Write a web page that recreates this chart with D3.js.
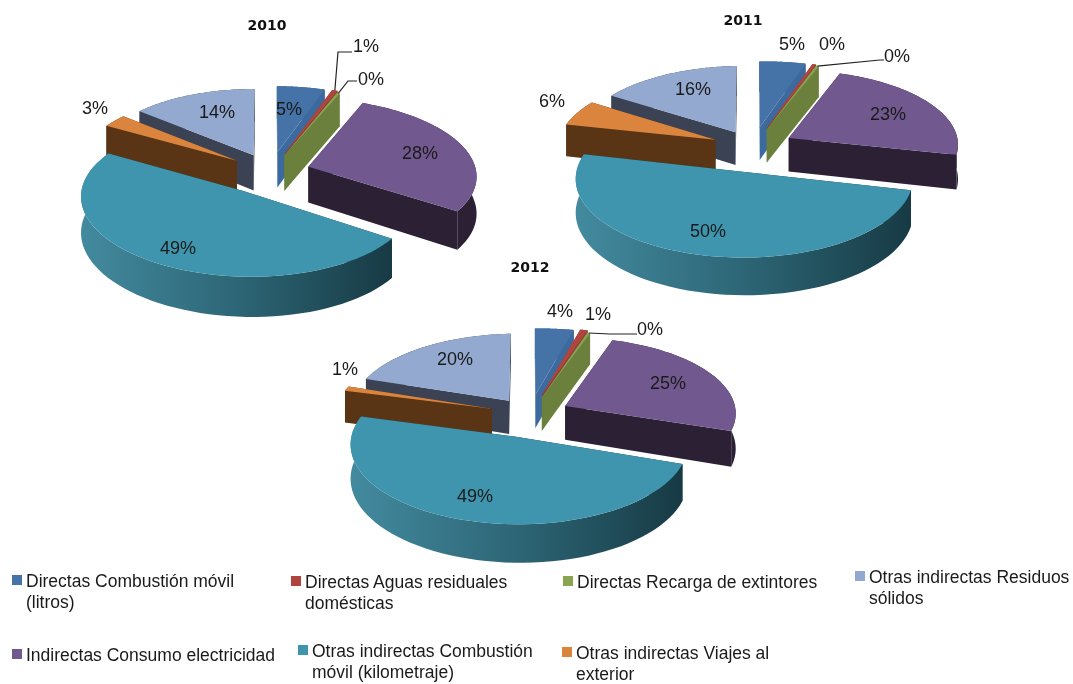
<html>

<head>
    <meta charset="utf-8">
    <script src="https://d3js.org/d3.v7.min.js"></script>
    <style>
        body {
            margin: 0;
            background: white;
        }

        svg {
            filter: blur(0.45px);
        }

        text {
            font-family: "Liberation Sans", sans-serif;
            fill: #1a1a1a;
        }

        .title {
            font-family: "DejaVu Sans", sans-serif;
            font-size: 14px;
            font-weight: bold;
            fill: #111;
        }

        .label {
            font-size: 18px;
        }

        .legend {
            font-size: 17.5px;
        }
    </style>
</head>

<body>
    <svg height="684" width="1073" id="chart"></svg>
    <script>
        const years = ["2010", "2011", "2012"];
        const categories = [
            ["Directas Combustión móvil", "(litros)"],
            ["Directas Aguas residuales", "domésticas"],
            ["Directas Recarga de extintores"],
            ["Indirectas Consumo electricidad"],
            ["Otras indirectas Combustión", "móvil (kilometraje)"],
            ["Otras indirectas Viajes al", "exterior"],
            ["Otras indirectas Residuos", "sólidos"]
        ];

        // labels show them rounded
        const values2010 = [5.2, 0.6, 0.3, 28, 49, 2.9, 14];
        const values2011 = [5, 0.4, 0.3, 23, 50, 5.7, 15.6];
        const values2012 = [4.2, 0.8, 0.3, 25, 49, 1, 19.7];

        const topColors = ["#4572a7", "#b0453f", "#89a54e", "#71588f", "#4095ae", "#db843d", "#93a9cf"];
        const sideColors = ["#3d6a9e", "#8f3a38", "#6b803c", "#2c2035", "url(#tealWall)", "#5a3515", "#3a4254"];

        // perspective and explosion of each pie, fitted against the picture
        const pies = [
            {
                values: values2010, title: [267, 25], cx: 270.3, cy: 171.7, R: 163.2, t: 0.458, a: 0.021, b: 0.085, m: 0.013, depth: 36,
                explode: [44.2, 45, 39.3, 40, 49.9, 41, 39.8],
                labels: [[289, 108], [366, 45], [371, 78], [420, 152], [178, 247], [95, 107], [217, 111]],
                leaders: [[1, [338, 52], [352, 52]], [2, [348, 81], [357, 81]]]
            },
            {
                values: values2011, title: [743, 20], cx: 752.9, cy: 146.9, R: 164, t: 0.454, a: 0.025, b: 0.085, m: -0.005, depth: 33.5,
                explode: [44.6, 45, 41.2, 40.8, 54.1, 41.4, 37.6],
                labels: [[792, 43], [832, 43], [897, 55], [888, 113], [708, 230], [552, 100], [693, 88]],
                leaders: [[2, [880, 60], [884, 60]]]
            },
            {
                values: values2012, title: [530, 267], cx: 529.8, cy: 414, R: 164.3, t: 0.46, a: 0.028, b: 0.091, m: -0.004, depth: 34,
                explode: [42.8, 45, 38.6, 39.5, 50, 40.2, 36.3],
                labels: [[560, 310], [598, 313], [650, 328], [668, 382], [475, 495], [345, 368], [455, 358]],
                leaders: [[2, [610, 334], [637, 334]]]
            }
        ];

        const legendSpots = [
            { i: 0, x: 26, y: 587 }, { i: 1, x: 305, y: 588 }, { i: 2, x: 577, y: 588 }, { i: 6, x: 869, y: 583 },
            { i: 3, x: 26, y: 661 }, { i: 4, x: 312, y: 657 }, { i: 5, x: 576, y: 659 }
        ];

        const svg = d3.select("#chart");
        const line = d3.line();
        const pieLayout = d3.pie().sort(null);
        const drawOrder = [6, 5, 0, 1, 2, 3, 4];

        const defs = svg.append("defs");
        const gradient = defs.append("linearGradient")
            .attr("id", "tealWall")
            .attr("x1", 0).attr("x2", 1).attr("y1", 0).attr("y2", 0);
        [["0%", "#438a9f"], ["50%", "#2d6676"], ["100%", "#173a44"]].forEach(s => {
            gradient.append("stop").attr("offset", s[0]).attr("stop-color", s[1]);
        });

        pies.forEach((pie, n) => {
            const slices = pieLayout(pie.values);
            const g = svg.append("g");

            // plane coordinates to the screen, z goes down
            function project(X, Y, z) {
                const w = 1 - pie.a * X / pie.R - pie.b * Y / pie.R;
                return [pie.cx + X / w, pie.cy + (pie.t * Y + pie.m * X + z) / w];
            }
            function point(i, angle, r, z) {
                const s = slices[i];
                const mid = (s.startAngle + s.endAngle) / 2;
                const E = pie.explode[i];
                return project(E * Math.sin(mid) + r * Math.sin(angle), -E * Math.cos(mid) - r * Math.cos(angle), z);
            }
            function rim(i, z) {
                const s = slices[i];
                return d3.range(0, 61).map(k => point(i, s.startAngle + (s.endAngle - s.startAngle) * k / 60, pie.R, z));
            }

            drawOrder.forEach(i => {
                const s = slices[i];
                const group = g.append("g");
                const sides = [s.startAngle, s.endAngle];
                sides.forEach(angle => {
                    group.append("path")
                        .attr("d", line([point(i, 0, 0, 0), point(i, angle, pie.R, 0), point(i, angle, pie.R, pie.depth), point(i, 0, 0, pie.depth)]) + "Z")
                        .attr("fill", i == 4 ? "#1a3a45" : sideColors[i]);
                });
                group.append("path")
                    .attr("d", line(rim(i, 0).concat(rim(i, pie.depth).reverse())) + "Z")
                    .attr("fill", sideColors[i]);
                group.append("path")
                    .attr("d", line([point(i, 0, 0, 0)].concat(rim(i, 0))) + "Z")
                    .attr("fill", topColors[i]);
            });

            pie.leaders.forEach(l => {
                const s = slices[l[0]];
                const start = point(l[0], (s.startAngle + s.endAngle) / 2, pie.R, 0);
                g.append("path")
                    .attr("d", line([start, l[1], l[2]]))
                    .attr("fill", "none")
                    .attr("stroke", "#222")
                    .attr("stroke-width", 1.2);
            });

            g.selectAll(".label").data(pie.values)
                .join("text")
                .attr("class", "label")
                .attr("text-anchor", "middle")
                .attr("x", (d, i) => pie.labels[i][0])
                .attr("y", (d, i) => pie.labels[i][1] + 6.5)
                .text(d => Math.round(d) + "%");

            svg.append("text")
                .attr("class", "title")
                .attr("text-anchor", "middle")
                .attr("x", pie.title[0])
                .attr("y", pie.title[1] + 5)
                .text(years[n]);
        });

        const legend = svg.selectAll(".legendItem").data(legendSpots)
            .join("g")
            .attr("class", "legendItem")
            .attr("transform", d => `translate(${d.x},${d.y})`);
        legend.append("rect")
            .attr("x", -14).attr("y", -12)
            .attr("width", 10).attr("height", 10)
            .attr("fill", d => topColors[d.i]);
        legend.each(function (d) {
            d3.select(this).selectAll("text").data(categories[d.i])
                .join("text")
                .attr("class", "legend")
                .attr("y", (t, k) => k * 21)
                .text(t => t);
        });
    </script>
</body>

</html>
